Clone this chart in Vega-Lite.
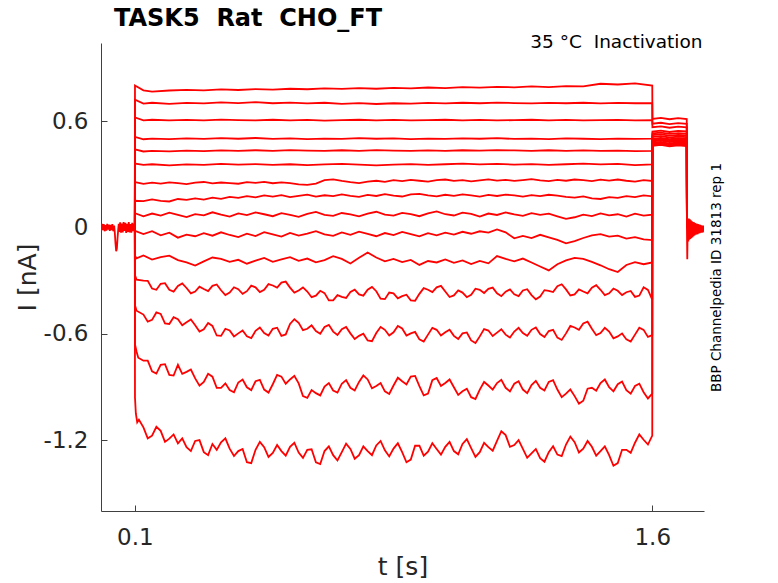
{
  "$schema": "https://vega.github.io/schema/vega-lite/v6.json",
  "width": 603,
  "height": 468,
  "autosize": {"type": "none"},
  "padding": {"left": 101, "top": 43, "right": 74, "bottom": 72},
  "background": "white",
  "title": {
    "text": "TASK5 \u00a0Rat \u00a0CHO_FT",
    "anchor": "start",
    "frame": "group",
    "dx": 13,
    "dy": 22,
    "font": "DejaVu Sans",
    "fontSize": 24,
    "fontWeight": "bold",
    "color": "black",
    "baseline": "alphabetic",
    "offset": 4
  },
  "config": {
    "view": {"stroke": null},
    "font": "DejaVu Sans",
    "axis": {
      "grid": false,
      "labelFont": "DejaVu Sans",
      "titleFont": "DejaVu Sans",
      "labelFontSize": 23,
      "titleFontSize": 25,
      "titleFontWeight": "normal",
      "labelColor": "#262626",
      "titleColor": "#262626",
      "domainColor": "#404040",
      "tickColor": "#404040",
      "domainWidth": 1,
      "tickWidth": 1
    }
  },
  "data": {
    "values": [
      {"s":"p","t":0,"i":0.015},{"s":"p","t":0.0025,"i":-0.02},{"s":"p","t":0.005,"i":0.02},{"s":"p","t":0.0075,"i":-0.015},{"s":"p","t":0.01,"i":0.018},{"s":"p","t":0.0125,"i":-0.022},{"s":"p","t":0.015,"i":0.012},{"s":"p","t":0.0175,"i":-0.018},{"s":"p","t":0.02,"i":0.02},{"s":"p","t":0.0225,"i":-0.012},{"s":"p","t":0.025,"i":0.016},{"s":"p","t":0.0275,"i":-0.02},{"s":"p","t":0.03,"i":0.014},{"s":"p","t":0.0325,"i":-0.016},{"s":"p","t":0.035,"i":0.018},{"s":"p","t":0.0375,"i":-0.022},{"s":"p","t":0.04,"i":0.01},{"s":"p","t":0.042,"i":-0.03},{"s":"p","t":0.044,"i":-0.09},{"s":"p","t":0.046,"i":-0.135},{"s":"p","t":0.048,"i":-0.12},{"s":"p","t":0.05,"i":-0.06},{"s":"p","t":0.052,"i":-0.01},{"s":"p","t":0.0535,"i":0.02},{"s":"p","t":0.055,"i":-0.025},{"s":"p","t":0.0575,"i":0.028},{"s":"p","t":0.06,"i":-0.03},{"s":"p","t":0.0625,"i":0.022},{"s":"p","t":0.065,"i":-0.028},{"s":"p","t":0.0675,"i":0.03},{"s":"p","t":0.07,"i":-0.02},{"s":"p","t":0.0725,"i":0.025},{"s":"p","t":0.075,"i":-0.032},{"s":"p","t":0.0775,"i":0.02},{"s":"p","t":0.08,"i":-0.025},{"s":"p","t":0.0825,"i":0.03},{"s":"p","t":0.085,"i":-0.028},{"s":"p","t":0.0875,"i":0.018},{"s":"p","t":0.09,"i":-0.03},{"s":"p","t":0.0925,"i":0.025},{"s":"p","t":0.095,"i":-0.022},{"s":"p","t":0.0975,"i":0.02},{"s":"p","t":0.1,"i":0},

      {"s":"a","t":0.1,"i":0},{"s":"a","t":0.1005,"i":0.8},{"s":"a","t":0.125,"i":0.773},{"s":"a","t":0.15,"i":0.766},{"s":"a","t":0.2,"i":0.772},{"s":"a","t":0.25,"i":0.776},{"s":"a","t":0.3,"i":0.773},{"s":"a","t":0.35,"i":0.778},{"s":"a","t":0.4,"i":0.775},{"s":"a","t":0.45,"i":0.78},{"s":"a","t":0.5,"i":0.777},{"s":"a","t":0.55,"i":0.782},{"s":"a","t":0.6,"i":0.779},{"s":"a","t":0.65,"i":0.784},{"s":"a","t":0.7,"i":0.781},{"s":"a","t":0.75,"i":0.786},{"s":"a","t":0.8,"i":0.782},{"s":"a","t":0.85,"i":0.787},{"s":"a","t":0.9,"i":0.784},{"s":"a","t":0.95,"i":0.789},{"s":"a","t":1.0,"i":0.786},{"s":"a","t":1.05,"i":0.791},{"s":"a","t":1.1,"i":0.788},{"s":"a","t":1.15,"i":0.793},{"s":"a","t":1.2,"i":0.79},{"s":"a","t":1.25,"i":0.795},{"s":"a","t":1.3,"i":0.791},{"s":"a","t":1.35,"i":0.797},{"s":"a","t":1.4,"i":0.795},{"s":"a","t":1.45,"i":0.81},{"s":"a","t":1.5,"i":0.806},{"s":"a","t":1.55,"i":0.812},{"s":"a","t":1.6,"i":0.8},{"s":"a","t":1.6005,"i":0.612},{"s":"a","t":1.625,"i":0.618},{"s":"a","t":1.65,"i":0.61},{"s":"a","t":1.675,"i":0.616},{"s":"a","t":1.7,"i":0.611},{"s":"a","t":1.7005,"i":0},

      {"s":"b","t":0.1,"i":0},{"s":"b","t":0.1005,"i":0.72},{"s":"b","t":0.125,"i":0.698},{"s":"b","t":0.15,"i":0.703},{"s":"b","t":0.2,"i":0.697},{"s":"b","t":0.25,"i":0.702},{"s":"b","t":0.3,"i":0.699},{"s":"b","t":0.35,"i":0.705},{"s":"b","t":0.4,"i":0.701},{"s":"b","t":0.45,"i":0.706},{"s":"b","t":0.5,"i":0.7},{"s":"b","t":0.55,"i":0.704},{"s":"b","t":0.6,"i":0.699},{"s":"b","t":0.65,"i":0.703},{"s":"b","t":0.7,"i":0.697},{"s":"b","t":0.75,"i":0.701},{"s":"b","t":0.8,"i":0.696},{"s":"b","t":0.85,"i":0.7},{"s":"b","t":0.9,"i":0.698},{"s":"b","t":0.95,"i":0.702},{"s":"b","t":1.0,"i":0.699},{"s":"b","t":1.05,"i":0.703},{"s":"b","t":1.1,"i":0.7},{"s":"b","t":1.15,"i":0.704},{"s":"b","t":1.2,"i":0.701},{"s":"b","t":1.25,"i":0.699},{"s":"b","t":1.3,"i":0.702},{"s":"b","t":1.35,"i":0.7},{"s":"b","t":1.4,"i":0.703},{"s":"b","t":1.45,"i":0.699},{"s":"b","t":1.5,"i":0.702},{"s":"b","t":1.55,"i":0.7},{"s":"b","t":1.6,"i":0.701},{"s":"b","t":1.6005,"i":0.585},{"s":"b","t":1.625,"i":0.59},{"s":"b","t":1.65,"i":0.582},{"s":"b","t":1.675,"i":0.588},{"s":"b","t":1.7,"i":0.584},{"s":"b","t":1.7005,"i":0},

      {"s":"c","t":0.1,"i":0},{"s":"c","t":0.1005,"i":0.62},{"s":"c","t":0.125,"i":0.604},{"s":"c","t":0.15,"i":0.607},{"s":"c","t":0.2,"i":0.603},{"s":"c","t":0.25,"i":0.606},{"s":"c","t":0.3,"i":0.604},{"s":"c","t":0.35,"i":0.608},{"s":"c","t":0.4,"i":0.605},{"s":"c","t":0.45,"i":0.603},{"s":"c","t":0.5,"i":0.607},{"s":"c","t":0.55,"i":0.604},{"s":"c","t":0.6,"i":0.606},{"s":"c","t":0.65,"i":0.602},{"s":"c","t":0.7,"i":0.605},{"s":"c","t":0.75,"i":0.607},{"s":"c","t":0.8,"i":0.604},{"s":"c","t":0.85,"i":0.606},{"s":"c","t":0.9,"i":0.603},{"s":"c","t":0.95,"i":0.605},{"s":"c","t":1.0,"i":0.607},{"s":"c","t":1.05,"i":0.604},{"s":"c","t":1.1,"i":0.606},{"s":"c","t":1.15,"i":0.603},{"s":"c","t":1.2,"i":0.605},{"s":"c","t":1.25,"i":0.607},{"s":"c","t":1.3,"i":0.604},{"s":"c","t":1.35,"i":0.606},{"s":"c","t":1.4,"i":0.603},{"s":"c","t":1.45,"i":0.605},{"s":"c","t":1.5,"i":0.606},{"s":"c","t":1.55,"i":0.604},{"s":"c","t":1.6,"i":0.605},{"s":"c","t":1.6005,"i":0.565},{"s":"c","t":1.625,"i":0.57},{"s":"c","t":1.65,"i":0.562},{"s":"c","t":1.675,"i":0.568},{"s":"c","t":1.7,"i":0.564},{"s":"c","t":1.7005,"i":0},

      {"s":"d","t":0.1,"i":0},{"s":"d","t":0.1005,"i":0.51},{"s":"d","t":0.125,"i":0.497},{"s":"d","t":0.15,"i":0.501},{"s":"d","t":0.2,"i":0.498},{"s":"d","t":0.25,"i":0.502},{"s":"d","t":0.3,"i":0.499},{"s":"d","t":0.35,"i":0.503},{"s":"d","t":0.4,"i":0.5},{"s":"d","t":0.45,"i":0.504},{"s":"d","t":0.5,"i":0.499},{"s":"d","t":0.55,"i":0.502},{"s":"d","t":0.6,"i":0.498},{"s":"d","t":0.65,"i":0.501},{"s":"d","t":0.7,"i":0.499},{"s":"d","t":0.75,"i":0.503},{"s":"d","t":0.8,"i":0.5},{"s":"d","t":0.85,"i":0.502},{"s":"d","t":0.9,"i":0.498},{"s":"d","t":0.95,"i":0.501},{"s":"d","t":1.0,"i":0.499},{"s":"d","t":1.05,"i":0.502},{"s":"d","t":1.1,"i":0.5},{"s":"d","t":1.15,"i":0.503},{"s":"d","t":1.2,"i":0.499},{"s":"d","t":1.25,"i":0.501},{"s":"d","t":1.3,"i":0.498},{"s":"d","t":1.35,"i":0.502},{"s":"d","t":1.4,"i":0.5},{"s":"d","t":1.45,"i":0.498},{"s":"d","t":1.5,"i":0.501},{"s":"d","t":1.55,"i":0.499},{"s":"d","t":1.6,"i":0.501},{"s":"d","t":1.6005,"i":0.54},{"s":"d","t":1.625,"i":0.546},{"s":"d","t":1.65,"i":0.538},{"s":"d","t":1.675,"i":0.544},{"s":"d","t":1.7,"i":0.541},{"s":"d","t":1.7005,"i":0},

      {"s":"e","t":0.1,"i":0},{"s":"e","t":0.1005,"i":0.44},{"s":"e","t":0.125,"i":0.428},{"s":"e","t":0.15,"i":0.432},{"s":"e","t":0.2,"i":0.429},{"s":"e","t":0.25,"i":0.433},{"s":"e","t":0.3,"i":0.43},{"s":"e","t":0.35,"i":0.434},{"s":"e","t":0.4,"i":0.431},{"s":"e","t":0.45,"i":0.435},{"s":"e","t":0.5,"i":0.432},{"s":"e","t":0.55,"i":0.436},{"s":"e","t":0.6,"i":0.433},{"s":"e","t":0.65,"i":0.431},{"s":"e","t":0.7,"i":0.435},{"s":"e","t":0.75,"i":0.432},{"s":"e","t":0.8,"i":0.436},{"s":"e","t":0.85,"i":0.433},{"s":"e","t":0.9,"i":0.431},{"s":"e","t":0.95,"i":0.434},{"s":"e","t":1.0,"i":0.432},{"s":"e","t":1.05,"i":0.435},{"s":"e","t":1.1,"i":0.433},{"s":"e","t":1.15,"i":0.436},{"s":"e","t":1.2,"i":0.434},{"s":"e","t":1.25,"i":0.431},{"s":"e","t":1.3,"i":0.435},{"s":"e","t":1.35,"i":0.432},{"s":"e","t":1.4,"i":0.434},{"s":"e","t":1.45,"i":0.431},{"s":"e","t":1.5,"i":0.433},{"s":"e","t":1.55,"i":0.43},{"s":"e","t":1.6,"i":0.432},{"s":"e","t":1.6005,"i":0.53},{"s":"e","t":1.625,"i":0.534},{"s":"e","t":1.65,"i":0.527},{"s":"e","t":1.675,"i":0.532},{"s":"e","t":1.7,"i":0.529},{"s":"e","t":1.7005,"i":0},

      {"s":"f","t":0.1,"i":0},{"s":"f","t":0.1005,"i":0.36},{"s":"f","t":0.125,"i":0.352},{"s":"f","t":0.15,"i":0.356},{"s":"f","t":0.2,"i":0.35},{"s":"f","t":0.25,"i":0.355},{"s":"f","t":0.3,"i":0.352},{"s":"f","t":0.35,"i":0.358},{"s":"f","t":0.4,"i":0.354},{"s":"f","t":0.45,"i":0.357},{"s":"f","t":0.5,"i":0.353},{"s":"f","t":0.55,"i":0.356},{"s":"f","t":0.6,"i":0.351},{"s":"f","t":0.65,"i":0.355},{"s":"f","t":0.7,"i":0.358},{"s":"f","t":0.75,"i":0.354},{"s":"f","t":0.8,"i":0.35},{"s":"f","t":0.85,"i":0.354},{"s":"f","t":0.9,"i":0.357},{"s":"f","t":0.95,"i":0.353},{"s":"f","t":1.0,"i":0.356},{"s":"f","t":1.05,"i":0.359},{"s":"f","t":1.1,"i":0.355},{"s":"f","t":1.15,"i":0.358},{"s":"f","t":1.2,"i":0.354},{"s":"f","t":1.25,"i":0.357},{"s":"f","t":1.3,"i":0.353},{"s":"f","t":1.35,"i":0.356},{"s":"f","t":1.4,"i":0.359},{"s":"f","t":1.45,"i":0.355},{"s":"f","t":1.5,"i":0.358},{"s":"f","t":1.55,"i":0.351},{"s":"f","t":1.6,"i":0.355},{"s":"f","t":1.6005,"i":0.52},{"s":"f","t":1.625,"i":0.524},{"s":"f","t":1.65,"i":0.517},{"s":"f","t":1.675,"i":0.522},{"s":"f","t":1.7,"i":0.519},{"s":"f","t":1.7005,"i":0},

      {"s":"g","t":0.1,"i":0},{"s":"g","t":0.1005,"i":0.255},{"s":"g","t":0.125,"i":0.245},{"s":"g","t":0.15,"i":0.252},{"s":"g","t":0.175,"i":0.247},{"s":"g","t":0.2,"i":0.254},{"s":"g","t":0.225,"i":0.249},{"s":"g","t":0.25,"i":0.244},{"s":"g","t":0.275,"i":0.252},{"s":"g","t":0.3,"i":0.256},{"s":"g","t":0.325,"i":0.248},{"s":"g","t":0.35,"i":0.253},{"s":"g","t":0.375,"i":0.25},{"s":"g","t":0.4,"i":0.246},{"s":"g","t":0.425,"i":0.255},{"s":"g","t":0.45,"i":0.251},{"s":"g","t":0.475,"i":0.257},{"s":"g","t":0.5,"i":0.249},{"s":"g","t":0.525,"i":0.254},{"s":"g","t":0.55,"i":0.25},{"s":"g","t":0.575,"i":0.243},{"s":"g","t":0.6,"i":0.24},{"s":"g","t":0.625,"i":0.247},{"s":"g","t":0.65,"i":0.266},{"s":"g","t":0.675,"i":0.271},{"s":"g","t":0.7,"i":0.262},{"s":"g","t":0.725,"i":0.255},{"s":"g","t":0.75,"i":0.25},{"s":"g","t":0.775,"i":0.258},{"s":"g","t":0.8,"i":0.263},{"s":"g","t":0.825,"i":0.257},{"s":"g","t":0.85,"i":0.266},{"s":"g","t":0.875,"i":0.261},{"s":"g","t":0.9,"i":0.268},{"s":"g","t":0.925,"i":0.263},{"s":"g","t":0.95,"i":0.258},{"s":"g","t":0.975,"i":0.266},{"s":"g","t":1.0,"i":0.27},{"s":"g","t":1.025,"i":0.262},{"s":"g","t":1.05,"i":0.267},{"s":"g","t":1.075,"i":0.26},{"s":"g","t":1.1,"i":0.265},{"s":"g","t":1.125,"i":0.271},{"s":"g","t":1.15,"i":0.264},{"s":"g","t":1.175,"i":0.268},{"s":"g","t":1.2,"i":0.262},{"s":"g","t":1.225,"i":0.267},{"s":"g","t":1.25,"i":0.272},{"s":"g","t":1.275,"i":0.265},{"s":"g","t":1.3,"i":0.261},{"s":"g","t":1.325,"i":0.268},{"s":"g","t":1.35,"i":0.263},{"s":"g","t":1.375,"i":0.27},{"s":"g","t":1.4,"i":0.266},{"s":"g","t":1.425,"i":0.261},{"s":"g","t":1.45,"i":0.269},{"s":"g","t":1.475,"i":0.264},{"s":"g","t":1.5,"i":0.27},{"s":"g","t":1.525,"i":0.263},{"s":"g","t":1.55,"i":0.258},{"s":"g","t":1.575,"i":0.266},{"s":"g","t":1.6,"i":0.262},{"s":"g","t":1.6005,"i":0.51},{"s":"g","t":1.625,"i":0.515},{"s":"g","t":1.65,"i":0.507},{"s":"g","t":1.675,"i":0.512},{"s":"g","t":1.7,"i":0.509},{"s":"g","t":1.7005,"i":0},

      {"s":"h","t":0.1,"i":0},{"s":"h","t":0.1005,"i":0.15},{"s":"h","t":0.125,"i":0.148},{"s":"h","t":0.15,"i":0.158},{"s":"h","t":0.175,"i":0.15},{"s":"h","t":0.2,"i":0.146},{"s":"h","t":0.225,"i":0.16},{"s":"h","t":0.25,"i":0.155},{"s":"h","t":0.275,"i":0.164},{"s":"h","t":0.3,"i":0.157},{"s":"h","t":0.325,"i":0.168},{"s":"h","t":0.35,"i":0.161},{"s":"h","t":0.375,"i":0.172},{"s":"h","t":0.4,"i":0.166},{"s":"h","t":0.425,"i":0.176},{"s":"h","t":0.45,"i":0.169},{"s":"h","t":0.475,"i":0.18},{"s":"h","t":0.5,"i":0.173},{"s":"h","t":0.525,"i":0.182},{"s":"h","t":0.55,"i":0.171},{"s":"h","t":0.575,"i":0.178},{"s":"h","t":0.6,"i":0.185},{"s":"h","t":0.625,"i":0.174},{"s":"h","t":0.65,"i":0.181},{"s":"h","t":0.675,"i":0.176},{"s":"h","t":0.7,"i":0.186},{"s":"h","t":0.725,"i":0.178},{"s":"h","t":0.75,"i":0.172},{"s":"h","t":0.775,"i":0.183},{"s":"h","t":0.8,"i":0.177},{"s":"h","t":0.825,"i":0.187},{"s":"h","t":0.85,"i":0.179},{"s":"h","t":0.875,"i":0.174},{"s":"h","t":0.9,"i":0.186},{"s":"h","t":0.925,"i":0.189},{"s":"h","t":0.95,"i":0.18},{"s":"h","t":0.975,"i":0.175},{"s":"h","t":1.0,"i":0.184},{"s":"h","t":1.025,"i":0.178},{"s":"h","t":1.05,"i":0.186},{"s":"h","t":1.075,"i":0.181},{"s":"h","t":1.1,"i":0.174},{"s":"h","t":1.125,"i":0.183},{"s":"h","t":1.15,"i":0.177},{"s":"h","t":1.175,"i":0.185},{"s":"h","t":1.2,"i":0.18},{"s":"h","t":1.225,"i":0.173},{"s":"h","t":1.25,"i":0.182},{"s":"h","t":1.275,"i":0.176},{"s":"h","t":1.3,"i":0.184},{"s":"h","t":1.325,"i":0.179},{"s":"h","t":1.35,"i":0.172},{"s":"h","t":1.375,"i":0.168},{"s":"h","t":1.4,"i":0.175},{"s":"h","t":1.425,"i":0.164},{"s":"h","t":1.45,"i":0.16},{"s":"h","t":1.475,"i":0.17},{"s":"h","t":1.5,"i":0.166},{"s":"h","t":1.525,"i":0.176},{"s":"h","t":1.55,"i":0.171},{"s":"h","t":1.575,"i":0.18},{"s":"h","t":1.6,"i":0.175},{"s":"h","t":1.6005,"i":0.5},{"s":"h","t":1.625,"i":0.505},{"s":"h","t":1.65,"i":0.497},{"s":"h","t":1.675,"i":0.503},{"s":"h","t":1.7,"i":0.499},{"s":"h","t":1.7005,"i":0},

      {"s":"i","t":0.1,"i":0},{"s":"i","t":0.1005,"i":0.08},{"s":"i","t":0.125,"i":0.062},{"s":"i","t":0.15,"i":0.078},{"s":"i","t":0.175,"i":0.066},{"s":"i","t":0.2,"i":0.083},{"s":"i","t":0.225,"i":0.071},{"s":"i","t":0.25,"i":0.058},{"s":"i","t":0.275,"i":0.075},{"s":"i","t":0.3,"i":0.068},{"s":"i","t":0.325,"i":0.085},{"s":"i","t":0.35,"i":0.072},{"s":"i","t":0.375,"i":0.061},{"s":"i","t":0.4,"i":0.079},{"s":"i","t":0.425,"i":0.069},{"s":"i","t":0.45,"i":0.084},{"s":"i","t":0.475,"i":0.074},{"s":"i","t":0.5,"i":0.063},{"s":"i","t":0.525,"i":0.08},{"s":"i","t":0.55,"i":0.07},{"s":"i","t":0.575,"i":0.059},{"s":"i","t":0.6,"i":0.076},{"s":"i","t":0.625,"i":0.087},{"s":"i","t":0.65,"i":0.071},{"s":"i","t":0.675,"i":0.065},{"s":"i","t":0.7,"i":0.081},{"s":"i","t":0.725,"i":0.073},{"s":"i","t":0.75,"i":0.062},{"s":"i","t":0.775,"i":0.078},{"s":"i","t":0.8,"i":0.088},{"s":"i","t":0.825,"i":0.072},{"s":"i","t":0.85,"i":0.066},{"s":"i","t":0.875,"i":0.082},{"s":"i","t":0.9,"i":0.075},{"s":"i","t":0.925,"i":0.063},{"s":"i","t":0.95,"i":0.079},{"s":"i","t":0.975,"i":0.09},{"s":"i","t":1.0,"i":0.074},{"s":"i","t":1.025,"i":0.067},{"s":"i","t":1.05,"i":0.083},{"s":"i","t":1.075,"i":0.076},{"s":"i","t":1.1,"i":0.061},{"s":"i","t":1.125,"i":0.078},{"s":"i","t":1.15,"i":0.07},{"s":"i","t":1.175,"i":0.084},{"s":"i","t":1.2,"i":0.073},{"s":"i","t":1.225,"i":0.065},{"s":"i","t":1.25,"i":0.08},{"s":"i","t":1.275,"i":0.071},{"s":"i","t":1.3,"i":0.077},{"s":"i","t":1.325,"i":0.062},{"s":"i","t":1.35,"i":0.048},{"s":"i","t":1.375,"i":0.057},{"s":"i","t":1.4,"i":0.072},{"s":"i","t":1.425,"i":0.064},{"s":"i","t":1.45,"i":0.079},{"s":"i","t":1.475,"i":0.068},{"s":"i","t":1.5,"i":0.074},{"s":"i","t":1.525,"i":0.061},{"s":"i","t":1.55,"i":0.077},{"s":"i","t":1.575,"i":0.066},{"s":"i","t":1.6,"i":0.072},{"s":"i","t":1.6005,"i":0.495},{"s":"i","t":1.625,"i":0.5},{"s":"i","t":1.65,"i":0.492},{"s":"i","t":1.675,"i":0.498},{"s":"i","t":1.7,"i":0.494},{"s":"i","t":1.7005,"i":0},

      {"s":"j","t":0.1,"i":0},{"s":"j","t":0.1005,"i":-0.02},{"s":"j","t":0.125,"i":-0.038},{"s":"j","t":0.15,"i":-0.022},{"s":"j","t":0.175,"i":-0.045},{"s":"j","t":0.2,"i":-0.03},{"s":"j","t":0.225,"i":-0.058},{"s":"j","t":0.25,"i":-0.041},{"s":"j","t":0.275,"i":-0.05},{"s":"j","t":0.3,"i":-0.033},{"s":"j","t":0.325,"i":-0.047},{"s":"j","t":0.35,"i":-0.028},{"s":"j","t":0.375,"i":-0.043},{"s":"j","t":0.4,"i":-0.055},{"s":"j","t":0.425,"i":-0.036},{"s":"j","t":0.45,"i":-0.049},{"s":"j","t":0.475,"i":-0.027},{"s":"j","t":0.5,"i":-0.04},{"s":"j","t":0.525,"i":-0.052},{"s":"j","t":0.55,"i":-0.031},{"s":"j","t":0.575,"i":-0.046},{"s":"j","t":0.6,"i":-0.035},{"s":"j","t":0.625,"i":-0.021},{"s":"j","t":0.65,"i":-0.039},{"s":"j","t":0.675,"i":-0.048},{"s":"j","t":0.7,"i":-0.029},{"s":"j","t":0.725,"i":-0.042},{"s":"j","t":0.75,"i":-0.024},{"s":"j","t":0.775,"i":-0.037},{"s":"j","t":0.8,"i":-0.05},{"s":"j","t":0.825,"i":-0.032},{"s":"j","t":0.85,"i":-0.044},{"s":"j","t":0.875,"i":-0.026},{"s":"j","t":0.9,"i":-0.038},{"s":"j","t":0.925,"i":-0.051},{"s":"j","t":0.95,"i":-0.033},{"s":"j","t":0.975,"i":-0.045},{"s":"j","t":1.0,"i":-0.03},{"s":"j","t":1.025,"i":-0.041},{"s":"j","t":1.05,"i":-0.025},{"s":"j","t":1.075,"i":-0.036},{"s":"j","t":1.1,"i":-0.022},{"s":"j","t":1.125,"i":-0.03},{"s":"j","t":1.15,"i":-0.012},{"s":"j","t":1.175,"i":-0.028},{"s":"j","t":1.2,"i":-0.062},{"s":"j","t":1.225,"i":-0.048},{"s":"j","t":1.25,"i":-0.06},{"s":"j","t":1.275,"i":-0.042},{"s":"j","t":1.3,"i":-0.056},{"s":"j","t":1.325,"i":-0.071},{"s":"j","t":1.35,"i":-0.09},{"s":"j","t":1.375,"i":-0.078},{"s":"j","t":1.4,"i":-0.06},{"s":"j","t":1.425,"i":-0.045},{"s":"j","t":1.45,"i":-0.038},{"s":"j","t":1.475,"i":-0.052},{"s":"j","t":1.5,"i":-0.047},{"s":"j","t":1.525,"i":-0.063},{"s":"j","t":1.55,"i":-0.055},{"s":"j","t":1.575,"i":-0.068},{"s":"j","t":1.6,"i":-0.072},{"s":"j","t":1.6005,"i":0.49},{"s":"j","t":1.625,"i":0.495},{"s":"j","t":1.65,"i":0.487},{"s":"j","t":1.675,"i":0.493},{"s":"j","t":1.7,"i":0.489},{"s":"j","t":1.7005,"i":0},

      {"s":"k","t":0.1,"i":0},{"s":"k","t":0.1005,"i":-0.16},{"s":"k","t":0.105,"i":-0.175},{"s":"k","t":0.125,"i":-0.158},{"s":"k","t":0.15,"i":-0.182},{"s":"k","t":0.175,"i":-0.168},{"s":"k","t":0.2,"i":-0.16},{"s":"k","t":0.225,"i":-0.185},{"s":"k","t":0.25,"i":-0.198},{"s":"k","t":0.275,"i":-0.215},{"s":"k","t":0.3,"i":-0.192},{"s":"k","t":0.325,"i":-0.17},{"s":"k","t":0.35,"i":-0.178},{"s":"k","t":0.375,"i":-0.195},{"s":"k","t":0.4,"i":-0.183},{"s":"k","t":0.425,"i":-0.205},{"s":"k","t":0.45,"i":-0.188},{"s":"k","t":0.475,"i":-0.172},{"s":"k","t":0.5,"i":-0.194},{"s":"k","t":0.525,"i":-0.18},{"s":"k","t":0.55,"i":-0.168},{"s":"k","t":0.575,"i":-0.189},{"s":"k","t":0.6,"i":-0.176},{"s":"k","t":0.625,"i":-0.197},{"s":"k","t":0.65,"i":-0.185},{"s":"k","t":0.675,"i":-0.163},{"s":"k","t":0.7,"i":-0.178},{"s":"k","t":0.725,"i":-0.204},{"s":"k","t":0.75,"i":-0.172},{"s":"k","t":0.775,"i":-0.142},{"s":"k","t":0.8,"i":-0.17},{"s":"k","t":0.825,"i":-0.192},{"s":"k","t":0.85,"i":-0.178},{"s":"k","t":0.875,"i":-0.196},{"s":"k","t":0.9,"i":-0.184},{"s":"k","t":0.925,"i":-0.212},{"s":"k","t":0.95,"i":-0.19},{"s":"k","t":0.975,"i":-0.198},{"s":"k","t":1.0,"i":-0.181},{"s":"k","t":1.025,"i":-0.2},{"s":"k","t":1.05,"i":-0.186},{"s":"k","t":1.075,"i":-0.207},{"s":"k","t":1.1,"i":-0.189},{"s":"k","t":1.125,"i":-0.203},{"s":"k","t":1.15,"i":-0.162},{"s":"k","t":1.175,"i":-0.178},{"s":"k","t":1.2,"i":-0.192},{"s":"k","t":1.225,"i":-0.176},{"s":"k","t":1.25,"i":-0.198},{"s":"k","t":1.275,"i":-0.221},{"s":"k","t":1.3,"i":-0.243},{"s":"k","t":1.325,"i":-0.208},{"s":"k","t":1.35,"i":-0.186},{"s":"k","t":1.375,"i":-0.172},{"s":"k","t":1.4,"i":-0.178},{"s":"k","t":1.425,"i":-0.195},{"s":"k","t":1.45,"i":-0.214},{"s":"k","t":1.475,"i":-0.236},{"s":"k","t":1.5,"i":-0.252},{"s":"k","t":1.525,"i":-0.212},{"s":"k","t":1.55,"i":-0.196},{"s":"k","t":1.575,"i":-0.208},{"s":"k","t":1.6,"i":-0.198},{"s":"k","t":1.6005,"i":0.485},{"s":"k","t":1.625,"i":0.49},{"s":"k","t":1.65,"i":0.481},{"s":"k","t":1.675,"i":0.488},{"s":"k","t":1.7,"i":0.484},{"s":"k","t":1.7005,"i":0},

      {"s":"l","t":0.1,"i":0},{"s":"l","t":0.1005,"i":-0.27},{"s":"l","t":0.105,"i":-0.295},{"s":"l","t":0.125,"i":-0.3},{"s":"l","t":0.15,"i":-0.345},{"s":"l","t":0.175,"i":-0.318},{"s":"l","t":0.2,"i":-0.352},{"s":"l","t":0.225,"i":-0.33},{"s":"l","t":0.25,"i":-0.342},{"s":"l","t":0.275,"i":-0.362},{"s":"l","t":0.3,"i":-0.348},{"s":"l","t":0.325,"i":-0.33},{"s":"l","t":0.35,"i":-0.355},{"s":"l","t":0.375,"i":-0.368},{"s":"l","t":0.4,"i":-0.349},{"s":"l","t":0.425,"i":-0.36},{"s":"l","t":0.45,"i":-0.338},{"s":"l","t":0.475,"i":-0.352},{"s":"l","t":0.5,"i":-0.328},{"s":"l","t":0.525,"i":-0.312},{"s":"l","t":0.55,"i":-0.34},{"s":"l","t":0.575,"i":-0.356},{"s":"l","t":0.6,"i":-0.362},{"s":"l","t":0.625,"i":-0.385},{"s":"l","t":0.65,"i":-0.371},{"s":"l","t":0.675,"i":-0.412},{"s":"l","t":0.7,"i":-0.392},{"s":"l","t":0.725,"i":-0.364},{"s":"l","t":0.75,"i":-0.378},{"s":"l","t":0.775,"i":-0.352},{"s":"l","t":0.8,"i":-0.36},{"s":"l","t":0.825,"i":-0.405},{"s":"l","t":0.85,"i":-0.372},{"s":"l","t":0.875,"i":-0.388},{"s":"l","t":0.9,"i":-0.412},{"s":"l","t":0.925,"i":-0.375},{"s":"l","t":0.95,"i":-0.352},{"s":"l","t":0.975,"i":-0.338},{"s":"l","t":1.0,"i":-0.362},{"s":"l","t":1.025,"i":-0.384},{"s":"l","t":1.05,"i":-0.368},{"s":"l","t":1.075,"i":-0.38},{"s":"l","t":1.1,"i":-0.352},{"s":"l","t":1.125,"i":-0.347},{"s":"l","t":1.15,"i":-0.372},{"s":"l","t":1.175,"i":-0.363},{"s":"l","t":1.2,"i":-0.378},{"s":"l","t":1.225,"i":-0.356},{"s":"l","t":1.25,"i":-0.382},{"s":"l","t":1.275,"i":-0.39},{"s":"l","t":1.3,"i":-0.358},{"s":"l","t":1.325,"i":-0.332},{"s":"l","t":1.35,"i":-0.35},{"s":"l","t":1.375,"i":-0.378},{"s":"l","t":1.4,"i":-0.362},{"s":"l","t":1.425,"i":-0.34},{"s":"l","t":1.45,"i":-0.352},{"s":"l","t":1.475,"i":-0.372},{"s":"l","t":1.5,"i":-0.358},{"s":"l","t":1.525,"i":-0.366},{"s":"l","t":1.55,"i":-0.392},{"s":"l","t":1.575,"i":-0.338},{"s":"l","t":1.6,"i":-0.408},{"s":"l","t":1.6005,"i":0.477},{"s":"l","t":1.625,"i":0.482},{"s":"l","t":1.65,"i":0.473},{"s":"l","t":1.675,"i":0.479},{"s":"l","t":1.7,"i":0.475},{"s":"l","t":1.7005,"i":0},
      {"s":"l","t":0.1375,"i":-0.302},{"s":"l","t":0.1625,"i":-0.352},{"s":"l","t":0.1875,"i":-0.315},{"s":"l","t":0.2125,"i":-0.362},{"s":"l","t":0.2375,"i":-0.316},{"s":"l","t":0.2625,"i":-0.372},{"s":"l","t":0.2875,"i":-0.335},{"s":"l","t":0.3125,"i":-0.36},{"s":"l","t":0.3375,"i":-0.322},{"s":"l","t":0.3625,"i":-0.382},{"s":"l","t":0.3875,"i":-0.338},{"s":"l","t":0.4125,"i":-0.375},{"s":"l","t":0.4375,"i":-0.329},{"s":"l","t":0.4625,"i":-0.365},{"s":"l","t":0.4875,"i":-0.32},{"s":"l","t":0.5125,"i":-0.34},{"s":"l","t":0.5375,"i":-0.306},{"s":"l","t":0.5625,"i":-0.368},{"s":"l","t":0.5875,"i":-0.339},{"s":"l","t":0.6125,"i":-0.394},{"s":"l","t":0.6375,"i":-0.358},{"s":"l","t":0.6625,"i":-0.412},{"s":"l","t":0.6875,"i":-0.382},{"s":"l","t":0.7125,"i":-0.398},{"s":"l","t":0.7375,"i":-0.351},{"s":"l","t":0.7625,"i":-0.385},{"s":"l","t":0.7875,"i":-0.336},{"s":"l","t":0.8125,"i":-0.402},{"s":"l","t":0.8375,"i":-0.368},{"s":"l","t":0.8625,"i":-0.4},{"s":"l","t":0.8875,"i":-0.38},{"s":"l","t":0.9125,"i":-0.414},{"s":"l","t":0.9375,"i":-0.343},{"s":"l","t":0.9625,"i":-0.365},{"s":"l","t":0.9875,"i":-0.33},{"s":"l","t":1.0125,"i":-0.393},{"s":"l","t":1.0375,"i":-0.356},{"s":"l","t":1.0625,"i":-0.394},{"s":"l","t":1.0875,"i":-0.346},{"s":"l","t":1.1125,"i":-0.37},{"s":"l","t":1.1375,"i":-0.34},{"s":"l","t":1.1625,"i":-0.388},{"s":"l","t":1.1875,"i":-0.35},{"s":"l","t":1.2125,"i":-0.388},{"s":"l","t":1.2375,"i":-0.349},{"s":"l","t":1.2625,"i":-0.406},{"s":"l","t":1.2875,"i":-0.354},{"s":"l","t":1.3125,"i":-0.365},{"s":"l","t":1.3375,"i":-0.321},{"s":"l","t":1.3625,"i":-0.384},{"s":"l","t":1.3875,"i":-0.35},{"s":"l","t":1.4125,"i":-0.372},{"s":"l","t":1.4375,"i":-0.326},{"s":"l","t":1.4625,"i":-0.382},{"s":"l","t":1.4875,"i":-0.345},{"s":"l","t":1.5125,"i":-0.382},{"s":"l","t":1.5375,"i":-0.359},{"s":"l","t":1.5625,"i":-0.385},{"s":"l","t":1.5875,"i":-0.353},

      {"s":"m","t":0.1,"i":0},{"s":"m","t":0.1005,"i":-0.44},{"s":"m","t":0.105,"i":-0.47},{"s":"m","t":0.125,"i":-0.492},{"s":"m","t":0.15,"i":-0.522},{"s":"m","t":0.175,"i":-0.488},{"s":"m","t":0.2,"i":-0.545},{"s":"m","t":0.225,"i":-0.518},{"s":"m","t":0.25,"i":-0.535},{"s":"m","t":0.275,"i":-0.552},{"s":"m","t":0.3,"i":-0.575},{"s":"m","t":0.325,"i":-0.556},{"s":"m","t":0.35,"i":-0.612},{"s":"m","t":0.375,"i":-0.582},{"s":"m","t":0.4,"i":-0.598},{"s":"m","t":0.425,"i":-0.615},{"s":"m","t":0.45,"i":-0.584},{"s":"m","t":0.475,"i":-0.596},{"s":"m","t":0.5,"i":-0.572},{"s":"m","t":0.525,"i":-0.612},{"s":"m","t":0.55,"i":-0.545},{"s":"m","t":0.575,"i":-0.538},{"s":"m","t":0.6,"i":-0.572},{"s":"m","t":0.625,"i":-0.585},{"s":"m","t":0.65,"i":-0.562},{"s":"m","t":0.675,"i":-0.588},{"s":"m","t":0.7,"i":-0.575},{"s":"m","t":0.725,"i":-0.598},{"s":"m","t":0.75,"i":-0.612},{"s":"m","t":0.775,"i":-0.638},{"s":"m","t":0.8,"i":-0.596},{"s":"m","t":0.825,"i":-0.578},{"s":"m","t":0.85,"i":-0.592},{"s":"m","t":0.875,"i":-0.57},{"s":"m","t":0.9,"i":-0.598},{"s":"m","t":0.925,"i":-0.632},{"s":"m","t":0.95,"i":-0.605},{"s":"m","t":0.975,"i":-0.578},{"s":"m","t":1.0,"i":-0.592},{"s":"m","t":1.025,"i":-0.612},{"s":"m","t":1.05,"i":-0.598},{"s":"m","t":1.075,"i":-0.638},{"s":"m","t":1.1,"i":-0.615},{"s":"m","t":1.125,"i":-0.582},{"s":"m","t":1.15,"i":-0.594},{"s":"m","t":1.175,"i":-0.605},{"s":"m","t":1.2,"i":-0.588},{"s":"m","t":1.225,"i":-0.596},{"s":"m","t":1.25,"i":-0.578},{"s":"m","t":1.275,"i":-0.602},{"s":"m","t":1.3,"i":-0.585},{"s":"m","t":1.325,"i":-0.622},{"s":"m","t":1.35,"i":-0.598},{"s":"m","t":1.375,"i":-0.565},{"s":"m","t":1.4,"i":-0.542},{"s":"m","t":1.425,"i":-0.572},{"s":"m","t":1.45,"i":-0.596},{"s":"m","t":1.475,"i":-0.588},{"s":"m","t":1.5,"i":-0.615},{"s":"m","t":1.525,"i":-0.632},{"s":"m","t":1.55,"i":-0.605},{"s":"m","t":1.575,"i":-0.578},{"s":"m","t":1.6,"i":-0.608},{"s":"m","t":1.6005,"i":0.472},{"s":"m","t":1.625,"i":0.477},{"s":"m","t":1.65,"i":0.468},{"s":"m","t":1.675,"i":0.474},{"s":"m","t":1.7,"i":0.47},{"s":"m","t":1.7005,"i":0},
      {"s":"m","t":0.1375,"i":-0.532},{"s":"m","t":0.1625,"i":-0.48},{"s":"m","t":0.1875,"i":-0.542},{"s":"m","t":0.2125,"i":-0.507},{"s":"m","t":0.2375,"i":-0.552},{"s":"m","t":0.2625,"i":-0.52},{"s":"m","t":0.2875,"i":-0.588},{"s":"m","t":0.3125,"i":-0.54},{"s":"m","t":0.3375,"i":-0.61},{"s":"m","t":0.3625,"i":-0.572},{"s":"m","t":0.3875,"i":-0.615},{"s":"m","t":0.4125,"i":-0.582},{"s":"m","t":0.4375,"i":-0.625},{"s":"m","t":0.4625,"i":-0.565},{"s":"m","t":0.4875,"i":-0.61},{"s":"m","t":0.5125,"i":-0.566},{"s":"m","t":0.5375,"i":-0.604},{"s":"m","t":0.5625,"i":-0.518},{"s":"m","t":0.5875,"i":-0.58},{"s":"m","t":0.6125,"i":-0.553},{"s":"m","t":0.6375,"i":-0.6},{"s":"m","t":0.6625,"i":-0.55},{"s":"m","t":0.6875,"i":-0.607},{"s":"m","t":0.7125,"i":-0.562},{"s":"m","t":0.7375,"i":-0.63},{"s":"m","t":0.7625,"i":-0.6},{"s":"m","t":0.7875,"i":-0.642},{"s":"m","t":0.8125,"i":-0.562},{"s":"m","t":0.8375,"i":-0.61},{"s":"m","t":0.8625,"i":-0.556},{"s":"m","t":0.8875,"i":-0.61},{"s":"m","t":0.9125,"i":-0.59},{"s":"m","t":0.9375,"i":-0.644},{"s":"m","t":0.9625,"i":-0.567},{"s":"m","t":0.9875,"i":-0.61},{"s":"m","t":1.0125,"i":-0.577},{"s":"m","t":1.0375,"i":-0.63},{"s":"m","t":1.0625,"i":-0.593},{"s":"m","t":1.0875,"i":-0.652},{"s":"m","t":1.1125,"i":-0.574},{"s":"m","t":1.1375,"i":-0.613},{"s":"m","t":1.1625,"i":-0.575},{"s":"m","t":1.1875,"i":-0.622},{"s":"m","t":1.2125,"i":-0.567},{"s":"m","t":1.2375,"i":-0.612},{"s":"m","t":1.2625,"i":-0.565},{"s":"m","t":1.2875,"i":-0.618},{"s":"m","t":1.3125,"i":-0.578},{"s":"m","t":1.3375,"i":-0.635},{"s":"m","t":1.3625,"i":-0.556},{"s":"m","t":1.3875,"i":-0.578},{"s":"m","t":1.4125,"i":-0.532},{"s":"m","t":1.4375,"i":-0.608},{"s":"m","t":1.4625,"i":-0.567},{"s":"m","t":1.4875,"i":-0.626},{"s":"m","t":1.5125,"i":-0.598},{"s":"m","t":1.5375,"i":-0.644},{"s":"m","t":1.5625,"i":-0.566},{"s":"m","t":1.5875,"i":-0.618},

      {"s":"n","t":0.1,"i":0},{"s":"n","t":0.1005,"i":-0.66},{"s":"n","t":0.105,"i":-0.7},{"s":"n","t":0.11,"i":-0.735},{"s":"n","t":0.125,"i":-0.752},{"s":"n","t":0.15,"i":-0.812},{"s":"n","t":0.175,"i":-0.776},{"s":"n","t":0.2,"i":-0.832},{"s":"n","t":0.225,"i":-0.775},{"s":"n","t":0.25,"i":-0.815},{"s":"n","t":0.275,"i":-0.852},{"s":"n","t":0.3,"i":-0.872},{"s":"n","t":0.325,"i":-0.842},{"s":"n","t":0.35,"i":-0.905},{"s":"n","t":0.375,"i":-0.918},{"s":"n","t":0.4,"i":-0.875},{"s":"n","t":0.425,"i":-0.902},{"s":"n","t":0.45,"i":-0.868},{"s":"n","t":0.475,"i":-0.915},{"s":"n","t":0.5,"i":-0.885},{"s":"n","t":0.525,"i":-0.842},{"s":"n","t":0.55,"i":-0.858},{"s":"n","t":0.575,"i":-0.88},{"s":"n","t":0.6,"i":-0.962},{"s":"n","t":0.625,"i":-0.935},{"s":"n","t":0.65,"i":-0.898},{"s":"n","t":0.675,"i":-0.92},{"s":"n","t":0.7,"i":-0.882},{"s":"n","t":0.725,"i":-0.905},{"s":"n","t":0.75,"i":-0.872},{"s":"n","t":0.775,"i":-0.858},{"s":"n","t":0.8,"i":-0.895},{"s":"n","t":0.825,"i":-0.925},{"s":"n","t":0.85,"i":-0.892},{"s":"n","t":0.875,"i":-0.868},{"s":"n","t":0.9,"i":-0.842},{"s":"n","t":0.925,"i":-0.895},{"s":"n","t":0.95,"i":-0.938},{"s":"n","t":0.975,"i":-0.85},{"s":"n","t":1.0,"i":-0.878},{"s":"n","t":1.025,"i":-0.902},{"s":"n","t":1.05,"i":-0.925},{"s":"n","t":1.075,"i":-0.958},{"s":"n","t":1.1,"i":-0.915},{"s":"n","t":1.125,"i":-0.892},{"s":"n","t":1.15,"i":-0.878},{"s":"n","t":1.175,"i":-0.905},{"s":"n","t":1.2,"i":-0.882},{"s":"n","t":1.225,"i":-0.915},{"s":"n","t":1.25,"i":-0.89},{"s":"n","t":1.275,"i":-0.905},{"s":"n","t":1.3,"i":-0.872},{"s":"n","t":1.325,"i":-0.915},{"s":"n","t":1.35,"i":-0.938},{"s":"n","t":1.375,"i":-0.952},{"s":"n","t":1.4,"i":-0.978},{"s":"n","t":1.425,"i":-0.905},{"s":"n","t":1.45,"i":-0.878},{"s":"n","t":1.475,"i":-0.902},{"s":"n","t":1.5,"i":-0.885},{"s":"n","t":1.525,"i":-0.918},{"s":"n","t":1.55,"i":-0.895},{"s":"n","t":1.575,"i":-0.93},{"s":"n","t":1.6,"i":-0.938},{"s":"n","t":1.6005,"i":0.466},{"s":"n","t":1.625,"i":0.471},{"s":"n","t":1.65,"i":0.462},{"s":"n","t":1.675,"i":0.468},{"s":"n","t":1.7,"i":0.464},{"s":"n","t":1.7005,"i":0},
      {"s":"n","t":0.1375,"i":-0.752},{"s":"n","t":0.1625,"i":-0.825},{"s":"n","t":0.1875,"i":-0.772},{"s":"n","t":0.2125,"i":-0.836},{"s":"n","t":0.2375,"i":-0.826},{"s":"n","t":0.2625,"i":-0.802},{"s":"n","t":0.2875,"i":-0.893},{"s":"n","t":0.3125,"i":-0.826},{"s":"n","t":0.3375,"i":-0.905},{"s":"n","t":0.3625,"i":-0.88},{"s":"n","t":0.3875,"i":-0.93},{"s":"n","t":0.4125,"i":-0.858},{"s":"n","t":0.4375,"i":-0.918},{"s":"n","t":0.4625,"i":-0.86},{"s":"n","t":0.4875,"i":-0.932},{"s":"n","t":0.5125,"i":-0.832},{"s":"n","t":0.5375,"i":-0.882},{"s":"n","t":0.5625,"i":-0.838},{"s":"n","t":0.5875,"i":-0.952},{"s":"n","t":0.6125,"i":-0.918},{"s":"n","t":0.6375,"i":-0.948},{"s":"n","t":0.6625,"i":-0.878},{"s":"n","t":0.6875,"i":-0.932},{"s":"n","t":0.7125,"i":-0.862},{"s":"n","t":0.7375,"i":-0.92},{"s":"n","t":0.7625,"i":-0.835},{"s":"n","t":0.7875,"i":-0.908},{"s":"n","t":0.8125,"i":-0.878},{"s":"n","t":0.8375,"i":-0.94},{"s":"n","t":0.8625,"i":-0.848},{"s":"n","t":0.8875,"i":-0.886},{"s":"n","t":0.9125,"i":-0.838},{"s":"n","t":0.9375,"i":-0.948},{"s":"n","t":0.9625,"i":-0.862},{"s":"n","t":0.9875,"i":-0.895},{"s":"n","t":1.0125,"i":-0.858},{"s":"n","t":1.0375,"i":-0.945},{"s":"n","t":1.0625,"i":-0.91},{"s":"n","t":1.0875,"i":-0.968},{"s":"n","t":1.1125,"i":-0.872},{"s":"n","t":1.1375,"i":-0.915},{"s":"n","t":1.1625,"i":-0.86},{"s":"n","t":1.1875,"i":-0.925},{"s":"n","t":1.2125,"i":-0.868},{"s":"n","t":1.2375,"i":-0.935},{"s":"n","t":1.2625,"i":-0.866},{"s":"n","t":1.2875,"i":-0.92},{"s":"n","t":1.3125,"i":-0.862},{"s":"n","t":1.3375,"i":-0.958},{"s":"n","t":1.3625,"i":-0.914},{"s":"n","t":1.3875,"i":-0.995},{"s":"n","t":1.4125,"i":-0.91},{"s":"n","t":1.4375,"i":-0.922},{"s":"n","t":1.4625,"i":-0.858},{"s":"n","t":1.4875,"i":-0.925},{"s":"n","t":1.5125,"i":-0.87},{"s":"n","t":1.5375,"i":-0.938},{"s":"n","t":1.5625,"i":-0.882},{"s":"n","t":1.5875,"i":-0.965},

      {"s":"o","t":0.1,"i":0},{"s":"o","t":0.1005,"i":-0.96},{"s":"o","t":0.103,"i":-1.05},{"s":"o","t":0.107,"i":-1.1},{"s":"o","t":0.112,"i":-1.085},{"s":"o","t":0.125,"i":-1.128},{"s":"o","t":0.15,"i":-1.175},{"s":"o","t":0.175,"i":-1.148},{"s":"o","t":0.2,"i":-1.192},{"s":"o","t":0.225,"i":-1.218},{"s":"o","t":0.25,"i":-1.24},{"s":"o","t":0.275,"i":-1.205},{"s":"o","t":0.3,"i":-1.268},{"s":"o","t":0.325,"i":-1.222},{"s":"o","t":0.35,"i":-1.212},{"s":"o","t":0.375,"i":-1.248},{"s":"o","t":0.4,"i":-1.262},{"s":"o","t":0.425,"i":-1.325},{"s":"o","t":0.45,"i":-1.255},{"s":"o","t":0.475,"i":-1.24},{"s":"o","t":0.5,"i":-1.272},{"s":"o","t":0.525,"i":-1.262},{"s":"o","t":0.55,"i":-1.238},{"s":"o","t":0.575,"i":-1.27},{"s":"o","t":0.6,"i":-1.255},{"s":"o","t":0.625,"i":-1.325},{"s":"o","t":0.65,"i":-1.262},{"s":"o","t":0.675,"i":-1.285},{"s":"o","t":0.7,"i":-1.268},{"s":"o","t":0.725,"i":-1.25},{"s":"o","t":0.75,"i":-1.285},{"s":"o","t":0.775,"i":-1.262},{"s":"o","t":0.8,"i":-1.23},{"s":"o","t":0.825,"i":-1.258},{"s":"o","t":0.85,"i":-1.248},{"s":"o","t":0.875,"i":-1.268},{"s":"o","t":0.9,"i":-1.31},{"s":"o","t":0.925,"i":-1.232},{"s":"o","t":0.95,"i":-1.265},{"s":"o","t":0.975,"i":-1.25},{"s":"o","t":1.0,"i":-1.238},{"s":"o","t":1.025,"i":-1.262},{"s":"o","t":1.05,"i":-1.222},{"s":"o","t":1.075,"i":-1.245},{"s":"o","t":1.1,"i":-1.268},{"s":"o","t":1.125,"i":-1.24},{"s":"o","t":1.15,"i":-1.205},{"s":"o","t":1.175,"i":-1.172},{"s":"o","t":1.2,"i":-1.228},{"s":"o","t":1.225,"i":-1.25},{"s":"o","t":1.25,"i":-1.275},{"s":"o","t":1.275,"i":-1.302},{"s":"o","t":1.3,"i":-1.268},{"s":"o","t":1.325,"i":-1.282},{"s":"o","t":1.35,"i":-1.225},{"s":"o","t":1.375,"i":-1.212},{"s":"o","t":1.4,"i":-1.248},{"s":"o","t":1.425,"i":-1.238},{"s":"o","t":1.45,"i":-1.262},{"s":"o","t":1.475,"i":-1.285},{"s":"o","t":1.5,"i":-1.33},{"s":"o","t":1.525,"i":-1.255},{"s":"o","t":1.55,"i":-1.215},{"s":"o","t":1.575,"i":-1.198},{"s":"o","t":1.6,"i":-1.175},{"s":"o","t":1.6005,"i":0.46},{"s":"o","t":1.625,"i":0.465},{"s":"o","t":1.65,"i":0.457},{"s":"o","t":1.675,"i":0.462},{"s":"o","t":1.7,"i":0.459},{"s":"o","t":1.7005,"i":0},
      {"s":"o","t":0.1375,"i":-1.19},{"s":"o","t":0.1625,"i":-1.125},{"s":"o","t":0.1875,"i":-1.21},{"s":"o","t":0.2125,"i":-1.168},{"s":"o","t":0.2375,"i":-1.19},{"s":"o","t":0.2625,"i":-1.262},{"s":"o","t":0.2875,"i":-1.2},{"s":"o","t":0.3125,"i":-1.285},{"s":"o","t":0.3375,"i":-1.255},{"s":"o","t":0.3625,"i":-1.19},{"s":"o","t":0.3875,"i":-1.29},{"s":"o","t":0.4125,"i":-1.25},{"s":"o","t":0.4375,"i":-1.33},{"s":"o","t":0.4625,"i":-1.21},{"s":"o","t":0.4875,"i":-1.295},{"s":"o","t":0.5125,"i":-1.228},{"s":"o","t":0.5375,"i":-1.288},{"s":"o","t":0.5625,"i":-1.215},{"s":"o","t":0.5875,"i":-1.3},{"s":"o","t":0.6125,"i":-1.252},{"s":"o","t":0.6375,"i":-1.335},{"s":"o","t":0.6625,"i":-1.235},{"s":"o","t":0.6875,"i":-1.315},{"s":"o","t":0.7125,"i":-1.22},{"s":"o","t":0.7375,"i":-1.305},{"s":"o","t":0.7625,"i":-1.235},{"s":"o","t":0.7875,"i":-1.285},{"s":"o","t":0.8125,"i":-1.205},{"s":"o","t":0.8375,"i":-1.292},{"s":"o","t":0.8625,"i":-1.218},{"s":"o","t":0.8875,"i":-1.325},{"s":"o","t":0.9125,"i":-1.232},{"s":"o","t":0.9375,"i":-1.288},{"s":"o","t":0.9625,"i":-1.218},{"s":"o","t":0.9875,"i":-1.282},{"s":"o","t":1.0125,"i":-1.21},{"s":"o","t":1.0375,"i":-1.28},{"s":"o","t":1.0625,"i":-1.195},{"s":"o","t":1.0875,"i":-1.295},{"s":"o","t":1.1125,"i":-1.215},{"s":"o","t":1.1375,"i":-1.26},{"s":"o","t":1.1625,"i":-1.15},{"s":"o","t":1.1875,"i":-1.238},{"s":"o","t":1.2125,"i":-1.2},{"s":"o","t":1.2375,"i":-1.3},{"s":"o","t":1.2625,"i":-1.25},{"s":"o","t":1.2875,"i":-1.322},{"s":"o","t":1.3125,"i":-1.235},{"s":"o","t":1.3375,"i":-1.29},{"s":"o","t":1.3625,"i":-1.18},{"s":"o","t":1.3875,"i":-1.27},{"s":"o","t":1.4125,"i":-1.205},{"s":"o","t":1.4375,"i":-1.288},{"s":"o","t":1.4625,"i":-1.235},{"s":"o","t":1.4875,"i":-1.345},{"s":"o","t":1.5125,"i":-1.255},{"s":"o","t":1.5375,"i":-1.272},{"s":"o","t":1.5625,"i":-1.168},{"s":"o","t":1.5875,"i":-1.225},

      {"s":"z","t":1.7005,"i":0},{"s":"z","t":1.7015,"i":-0.18},{"s":"z","t":1.703,"i":0.04},{"s":"z","t":1.7045,"i":-0.08},{"s":"z","t":1.706,"i":0.05},{"s":"z","t":1.7075,"i":-0.07},{"s":"z","t":1.709,"i":0.045},{"s":"z","t":1.7105,"i":-0.065},{"s":"z","t":1.712,"i":0.04},{"s":"z","t":1.7135,"i":-0.06},{"s":"z","t":1.715,"i":0.035},{"s":"z","t":1.7165,"i":-0.055},{"s":"z","t":1.718,"i":0.03},{"s":"z","t":1.7195,"i":-0.05},{"s":"z","t":1.721,"i":0.028},{"s":"z","t":1.7225,"i":-0.045},{"s":"z","t":1.724,"i":0.025},{"s":"z","t":1.7255,"i":-0.042},{"s":"z","t":1.727,"i":0.022},{"s":"z","t":1.7285,"i":-0.04},{"s":"z","t":1.73,"i":0.02},{"s":"z","t":1.7315,"i":-0.038},{"s":"z","t":1.733,"i":0.018},{"s":"z","t":1.7345,"i":-0.035},{"s":"z","t":1.736,"i":0.016},{"s":"z","t":1.7375,"i":-0.033},{"s":"z","t":1.739,"i":0.015},{"s":"z","t":1.7405,"i":-0.03},{"s":"z","t":1.742,"i":0.012},{"s":"z","t":1.7435,"i":-0.03},{"s":"z","t":1.745,"i":0.01},{"s":"z","t":1.7465,"i":-0.028},{"s":"z","t":1.748,"i":0.01},{"s":"z","t":1.7495,"i":-0.025}
    ]
  },
  "layer": [
    {
      "mark": {"type": "line", "color": "#ff0000", "strokeWidth": 1.8, "clip": true},
      "encoding": {
        "detail": {"field": "s", "type": "nominal"},
        "x": {
          "field": "t",
          "type": "quantitative",
          "scale": {"domain": [0.002, 1.75], "nice": false, "zero": false},
          "axis": {
            "orient": "bottom",
            "title": "t [s]",
            "values": [0.1, 1.6],
            "labelExpr": "toString(datum.value)",
            "tickSize": -6,
            "labelPadding": 21,
            "titlePadding": 5
          }
        },
        "y": {
          "field": "i",
          "type": "quantitative",
          "scale": {"domain": [-1.6, 1.04], "nice": false, "zero": false},
          "axis": {
            "orient": "left",
            "title": "I [nA]",
            "values": [-1.2, -0.6, 0, 0.6],
            "labelExpr": "toString(datum.value)",
            "tickSize": -6,
            "labelPadding": 19,
            "titlePadding": 3
          }
        }
      }
    },
    {
      "mark": {"type": "line", "opacity": 0},
      "encoding": {
        "detail": {"field": "s", "type": "nominal"},
        "x": {
          "field": "t",
          "type": "quantitative",
          "axis": {
            "orient": "top",
            "labels": false,
            "ticks": false,
            "domain": false,
            "title": "35 °C \u00a0Inactivation",
            "titleFontSize": 18.5,
            "titleColor": "black",
            "titleAlign": "right",
            "titleBaseline": "alphabetic",
            "titleX": 601,
            "titleY": 4
          }
        },
        "y": {
          "field": "i",
          "type": "quantitative",
          "axis": {
            "orient": "right",
            "labels": false,
            "ticks": false,
            "domain": false,
            "title": "BBP Channelpedia ID 31813 rep 1",
            "titleFontSize": 13.5,
            "titleColor": "black",
            "titleAngle": 270,
            "titleAlign": "center",
            "titleBaseline": "middle",
            "titleX": 12,
            "titleY": 234
          }
        }
      }
    }
  ],
  "resolve": {"axis": {"x": "independent", "y": "independent"}}
}
